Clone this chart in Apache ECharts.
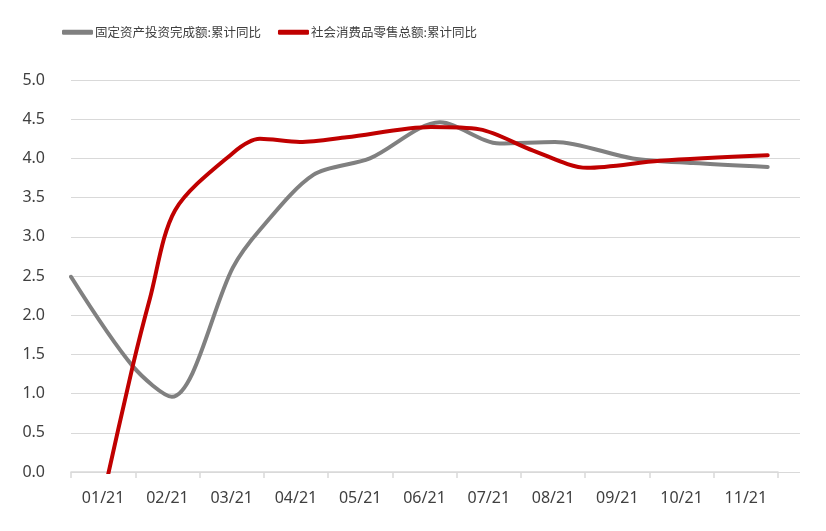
<!DOCTYPE html>
<html>
<head>
<meta charset="utf-8">
<script src="https://cdn.jsdelivr.net/npm/echarts@6/dist/echarts.min.js"></script>
<style>html,body{margin:0;padding:0;background:#fff}#c{width:826px;height:531px}</style>
</head>
<body>
<div id="c"></div>
<script>
// Month labels
const categories = ['01/21','02/21','03/21','04/21','05/21','06/21','07/21','08/21','09/21','10/21','11/21'];
// Series names
const seriesNames = ['固定资产投资完成额:累计同比','社会消费品零售总额:累计同比'];
// Positions in month units along the axis (0 = left edge of 01/21 band)
const fixedInvestX = [0.00,0.96,1.57,2.52,2.94,3.77,4.65,5.74,6.67,7.53,8.74,9.68,10.84];
const fixedInvestY = [2.49,1.35,0.96,2.61,3.09,3.79,4.00,4.46,4.19,4.21,4.00,3.94,3.89];
const retailX = [0.45,0.96,1.23,1.62,2.52,2.94,3.56,4.29,5.60,6.36,7.19,8.03,9.16,10.84];
const retailY = [-0.50,1.35,2.22,3.34,4.07,4.25,4.21,4.27,4.40,4.37,4.10,3.88,3.97,4.04];

const pair = (xs, ys) => xs.map((x, i) => [x, ys[i]]);

const chart = echarts.init(document.getElementById('c'));
chart.setOption({
  animation: false,
  backgroundColor: '#fff',
  textStyle: { fontFamily: '"Noto Sans CJK SC", "Noto Sans", sans-serif' },
  legend: {
    top: 21, left: 57,
    itemWidth: 31, itemHeight: 5, itemGap: 17,
    icon: 'roundRect',
    textStyle: { color: '#404040', fontSize: 12.5, fontFamily: '"Noto Sans CJK SC", sans-serif', padding: [0,0,0,-3] },
    data: seriesNames
  },
  grid: [
    { left: 71, right: 26, top: 80, bottom: 59 },
    { left: 71, right: 48, top: 80, bottom: 59 }
  ],
  xAxis: [
    { gridIndex: 0, type: 'value', min: 0, max: 1, show: false },
    { gridIndex: 1, type: 'category', data: categories, boundaryGap: true,
      axisLine: { lineStyle: { color: '#d9d9d9', width: 1.5 } },
      axisTick: { show: true, length: 6, lineStyle: { color: '#d9d9d9', width: 1.5 } },
      axisLabel: { color: '#404040', fontSize: 16, margin: 18, fontFamily: '"Noto Sans", "Open Sans", sans-serif' }
    },
    { gridIndex: 1, type: 'value', min: 0, max: 11, show: false }
  ],
  yAxis: [
    { gridIndex: 0, type: 'value', min: 0, max: 5, interval: 0.5,
      axisLine: { show: false }, axisTick: { show: false },
      splitLine: { lineStyle: { color: '#d9d9d9', width: 1.2 } },
      axisLabel: { color: '#404040', fontSize: 16, margin: 26, fontFamily: '"Noto Sans", "Open Sans", sans-serif',
        formatter: v => v.toFixed(1) }
    },
    { gridIndex: 1, type: 'value', min: 0, max: 5, show: false }
  ],
  series: [
    { name: seriesNames[0], type: 'line', xAxisIndex: 2, yAxisIndex: 1,
      data: pair(fixedInvestX, fixedInvestY), smooth: 0.3,
      showSymbol: false, clip: true, color: '#808080',
      lineStyle: { color: '#808080', width: 4, cap: 'round' } },
    { name: seriesNames[1], type: 'line', xAxisIndex: 2, yAxisIndex: 1,
      data: pair(retailX, retailY), smooth: 0.3,
      showSymbol: false, clip: true, color: '#c00000',
      lineStyle: { color: '#c00000', width: 4, cap: 'round' } }
  ]
});
</script>
</body>
</html>
